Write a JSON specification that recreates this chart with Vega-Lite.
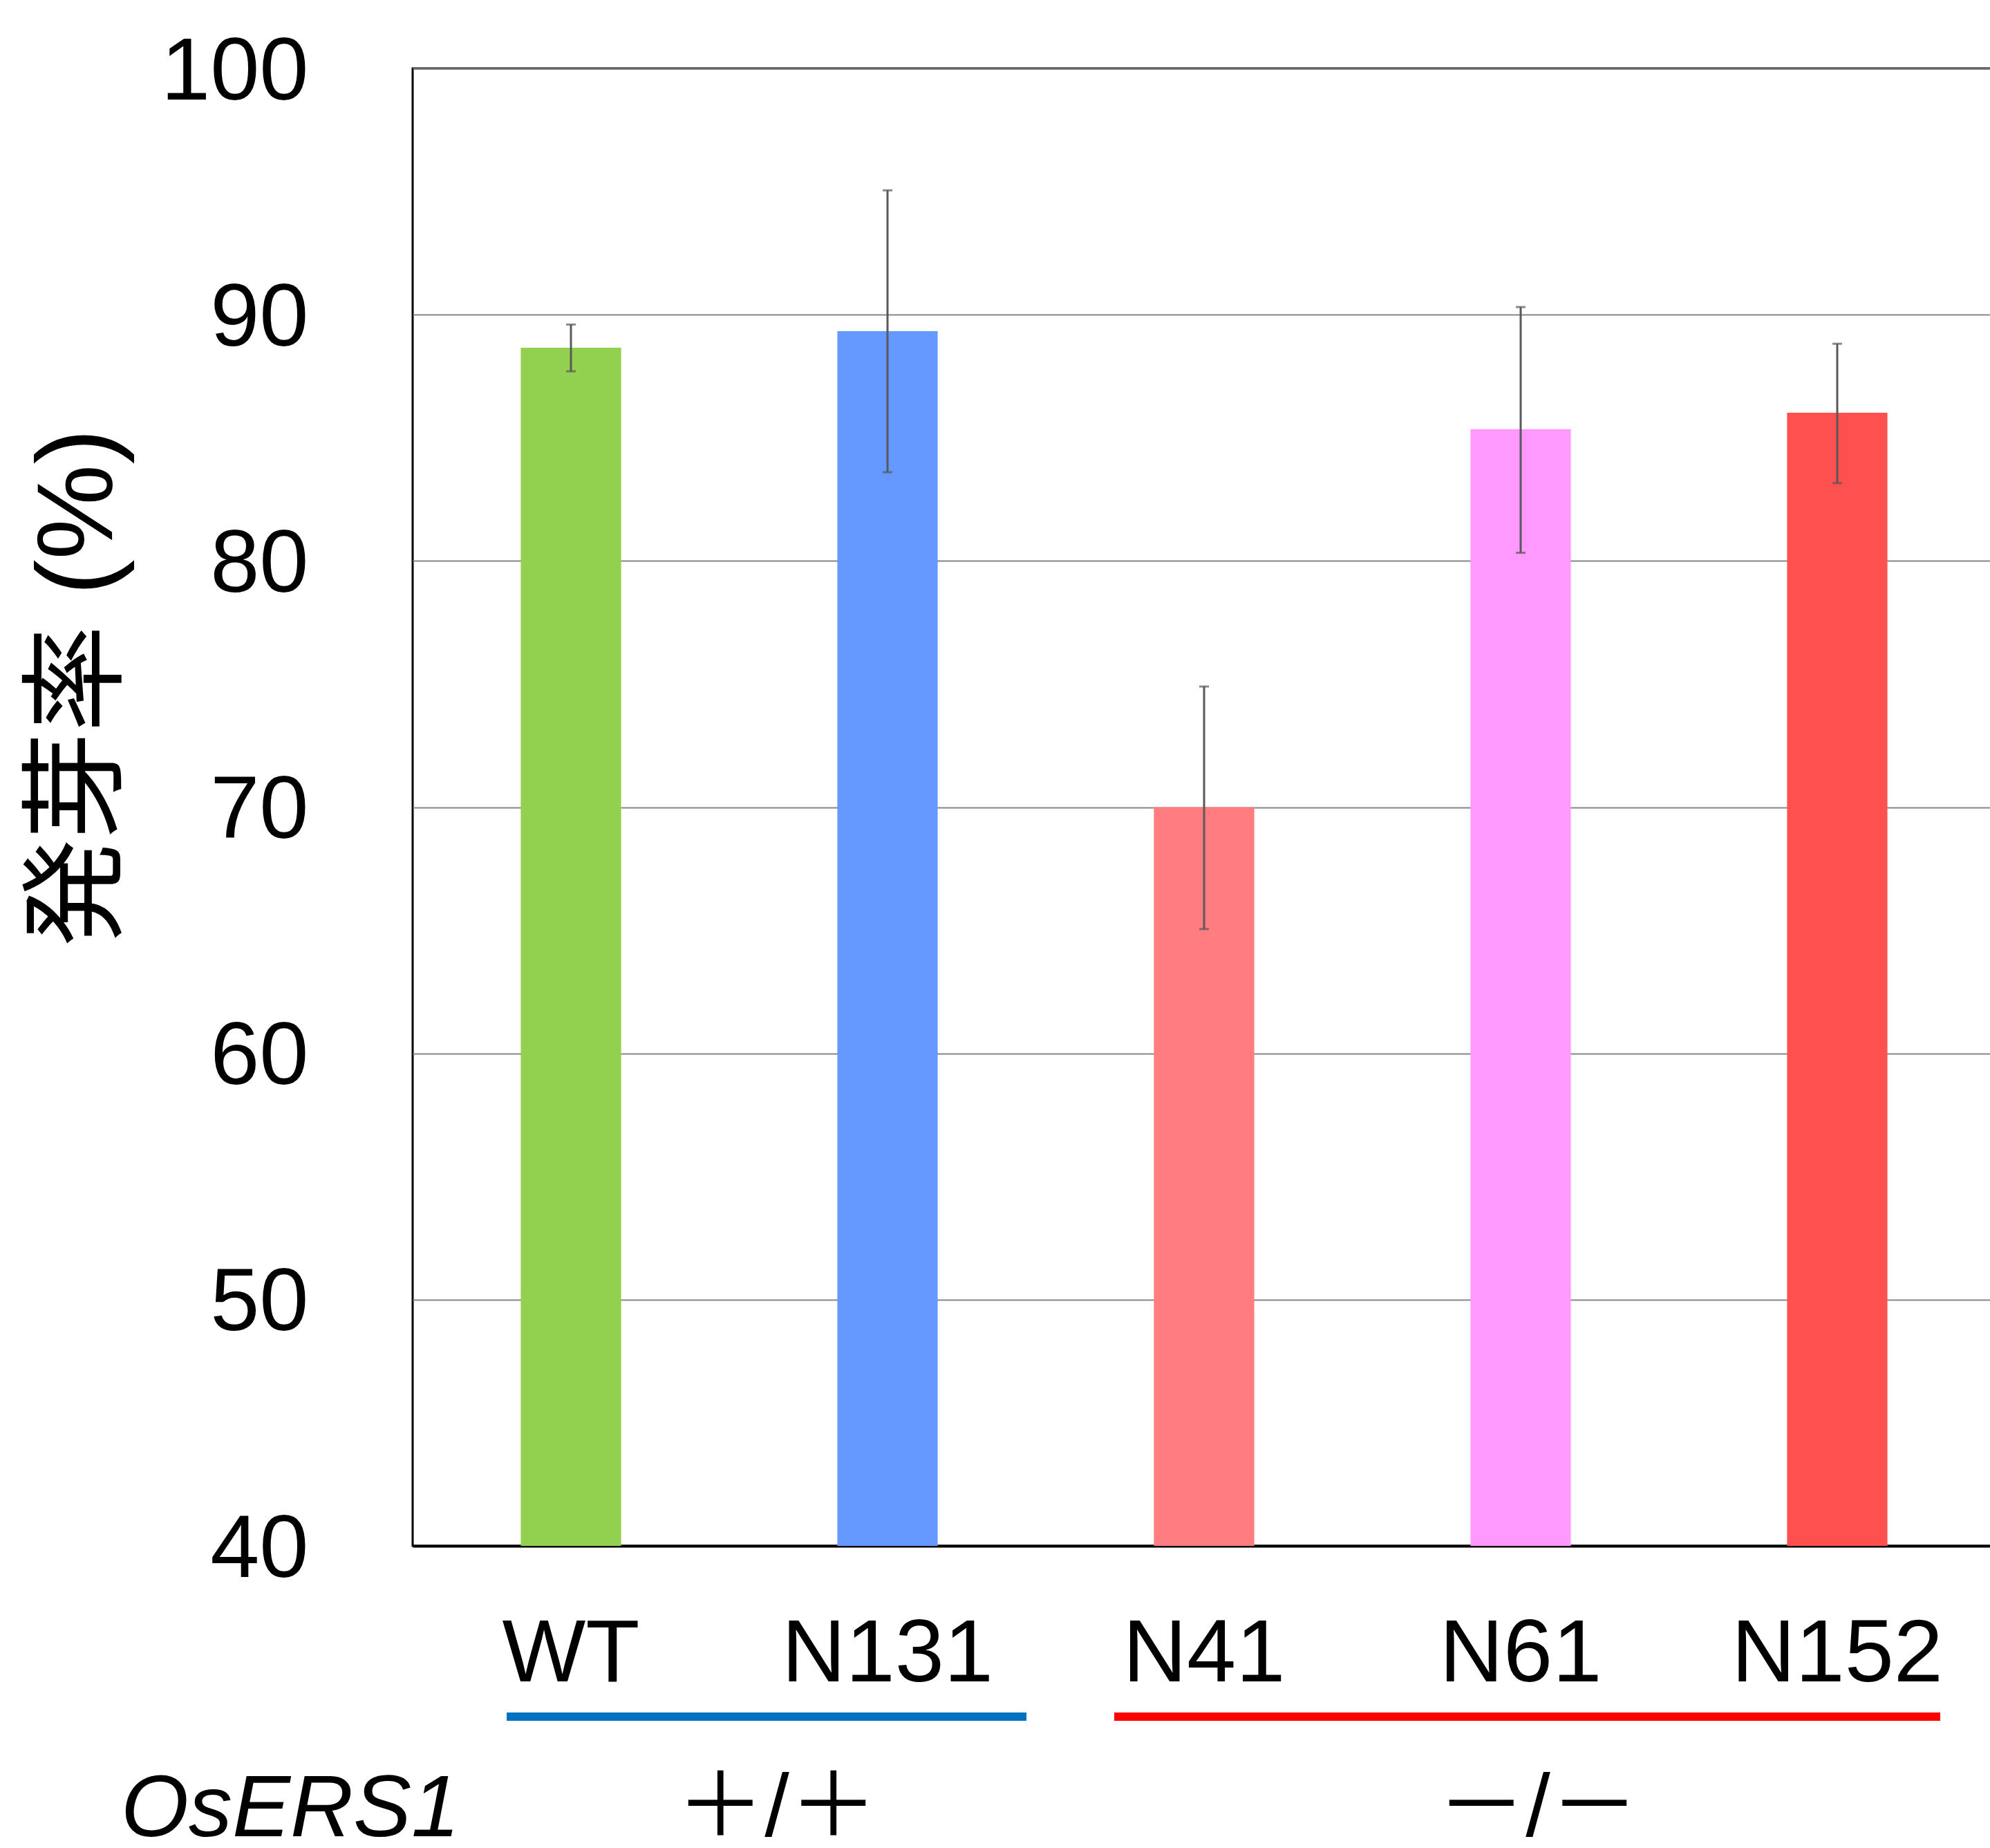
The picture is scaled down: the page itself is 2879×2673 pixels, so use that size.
{
  "$schema": "https://vega.github.io/schema/vega-lite/v6.json",
  "autosize": "none",
  "padding": {"left": 597, "top": 99, "right": 0, "bottom": 437},
  "width": 2290,
  "height": 2137,
  "background": "white",
  "config": {"view": {"stroke": "#000000", "strokeWidth": 3}},
  "datasets": {
    "bars": [
      {"line": "WT", "value": 88.66, "lo": 87.70, "hi": 89.60},
      {"line": "N131", "value": 89.33, "lo": 83.60, "hi": 95.05},
      {"line": "N41", "value": 70.0, "lo": 65.05, "hi": 74.9},
      {"line": "N61", "value": 85.35, "lo": 80.33, "hi": 90.31},
      {"line": "N152", "value": 86.02, "lo": 83.16, "hi": 88.82}
    ],
    "groups": [
      {"genotype": "＋/＋", "from": "WT", "to": "N131"},
      {"genotype": "－/－", "from": "N41", "to": "N152"}
    ],
    "gene": [{"name": "OsERS1", "anchor": "WT"}]
  },
  "layer": [
    {
      "data": {"name": "bars"},
      "mark": {"type": "bar", "clip": true},
      "encoding": {
        "x": {
          "field": "line", "type": "nominal", "title": null,
          "scale": {"domain": ["WT", "N131", "N41", "N61", "N152"], "paddingInner": 0.683, "paddingOuter": 0.3415},
          "axis": {
            "labelAngle": 0, "labelFont": "Liberation Sans", "labelFontSize": 128, "labelColor": "#000000",
            "labelPadding": 94, "ticks": false, "tickSize": 0, "domainColor": "#000000", "domainWidth": 4,
            "grid": false, "labelBaseline": "top", "labelLimit": 0, "labelOverlap": false
          }
        },
        "y": {
          "field": "value", "type": "quantitative",
          "scale": {"domain": [40, 100], "nice": false, "zero": false},
          "axis": {
            "values": [40, 50, 60, 70, 80, 90, 100],
            "labelFont": "Liberation Sans", "labelFontSize": 128, "labelColor": "#000000",
            "labelPadding": 151, "ticks": false, "tickSize": 0, "domain": false, "labelLimit": 0, "labelOverlap": false,
            "grid": true, "gridColor": "#868686", "gridWidth": 2, "labelOffset": 6,
            "title": "発芽率 (%)", "titleFont": "Liberation Sans, Noto Sans CJK JP", "titleFontSize": 155,
            "titleFontWeight": "normal", "titleColor": "#000000", "titleX": -483, "titleY": 895,
            "titleAngle": 270, "titleAlign": "center", "titleBaseline": "middle", "titleLimit": 0
          }
        },
        "color": {
          "field": "line", "type": "nominal", "legend": null,
          "scale": {"domain": ["WT", "N131", "N41", "N61", "N152"], "range": ["#92D050", "#6699FF", "#FF7C80", "#FF99FF", "#FF5050"]}
        }
      }
    },
    {
      "data": {"name": "bars"},
      "mark": {"type": "rule", "color": "#595959", "strokeWidth": 3},
      "encoding": {
        "x": {"field": "line", "type": "nominal"},
        "y": {"field": "lo", "type": "quantitative"},
        "y2": {"field": "hi"}
      }
    },
    {
      "data": {"name": "bars"},
      "mark": {"type": "tick", "color": "#595959", "size": 14, "thickness": 3},
      "encoding": {
        "x": {"field": "line", "type": "nominal"},
        "y": {"field": "lo", "type": "quantitative"}
      }
    },
    {
      "data": {"name": "bars"},
      "mark": {"type": "tick", "color": "#595959", "size": 14, "thickness": 3},
      "encoding": {
        "x": {"field": "line", "type": "nominal"},
        "y": {"field": "hi", "type": "quantitative"}
      }
    },
    {
      "data": {"name": "groups"},
      "transform": [{"filter": "datum.from === 'WT'"}],
      "mark": {"type": "rule", "color": "#0070C0", "strokeWidth": 12, "strokeCap": "butt", "clip": false, "yOffset": 247, "xOffset": -93, "x2Offset": 201},
      "encoding": {
        "x": {"field": "from", "type": "nominal"},
        "x2": {"field": "to"},
        "y": {"datum": 40, "type": "quantitative"}
      }
    },
    {
      "data": {"name": "groups"},
      "transform": [{"filter": "datum.from === 'N41'"}],
      "mark": {"type": "rule", "color": "#FF0000", "strokeWidth": 12, "strokeCap": "butt", "clip": false, "yOffset": 247, "xOffset": -130, "x2Offset": 149},
      "encoding": {
        "x": {"field": "from", "type": "nominal"},
        "x2": {"field": "to"},
        "y": {"datum": 40, "type": "quantitative"}
      }
    },
    {
      "data": {"name": "groups"},
      "transform": [{"filter": "datum.from === 'WT'"}],
      "mark": {"type": "text", "font": "Liberation Sans, Noto Sans CJK JP", "fontSize": 128, "color": "#000000", "align": "center", "baseline": "middle", "yOffset": 382, "xOffset": 298},
      "encoding": {
        "x": {"field": "from", "type": "nominal"},
        "y": {"datum": 40, "type": "quantitative"},
        "text": {"field": "genotype"}
      }
    },
    {
      "data": {"name": "groups"},
      "transform": [{"filter": "datum.from === 'N41'"}],
      "mark": {"type": "text", "font": "Liberation Sans, Noto Sans CJK JP", "fontSize": 128, "color": "#000000", "align": "center", "baseline": "middle", "yOffset": 382, "xOffset": 483},
      "encoding": {
        "x": {"field": "from", "type": "nominal"},
        "y": {"datum": 40, "type": "quantitative"},
        "text": {"field": "genotype"}
      }
    },
    {
      "data": {"name": "gene"},
      "mark": {"type": "text", "font": "Liberation Sans", "fontStyle": "italic", "fontSize": 126, "color": "#000000", "align": "center", "baseline": "middle", "yOffset": 382, "xOffset": -406},
      "encoding": {
        "x": {"field": "anchor", "type": "nominal"},
        "y": {"datum": 40, "type": "quantitative"},
        "text": {"field": "name"}
      }
    }
  ]
}
